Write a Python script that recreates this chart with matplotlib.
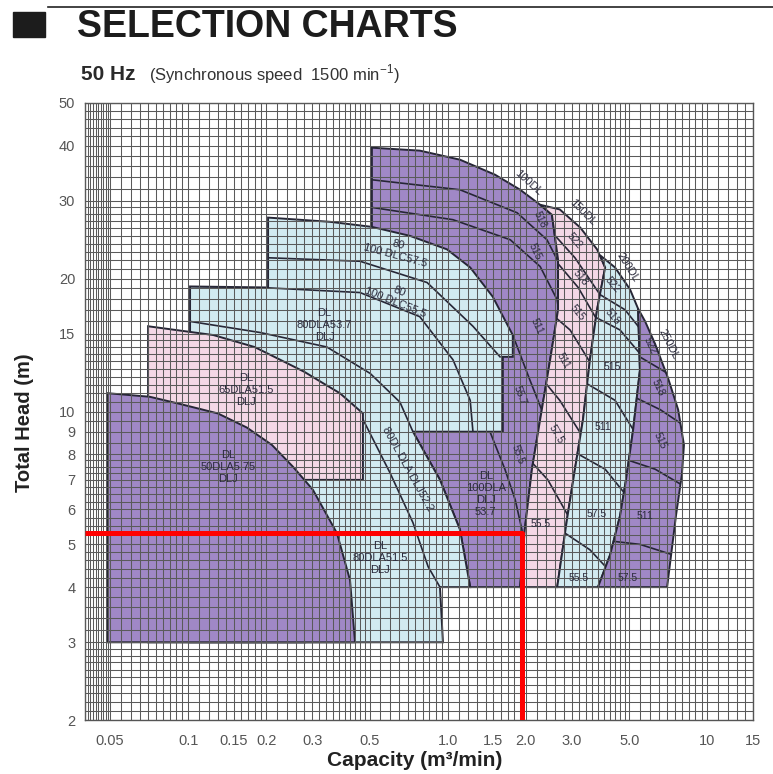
import matplotlib
matplotlib.use("Agg")
import matplotlib.pyplot as plt
import numpy as np
from matplotlib.patches import Polygon, Rectangle
from matplotlib.lines import Line2D
from matplotlib.ticker import NullFormatter

plt.rcParams["font.family"] = ["Liberation Sans", "DejaVu Sans"]
plt.rcParams["mathtext.fontset"] = "custom"
plt.rcParams["mathtext.rm"] = "Liberation Sans"

PURPLE = "#a088c6"
PINK = "#f3d8e6"
BLUE = "#d2eaf0"
EDGE = "#262636"
TXT = "#2b2b3d"

# axis ticks
x_ticks = [0.05, 0.1, 0.15, 0.2, 0.3, 0.5, 1.0, 1.5, 2.0, 3.0, 5.0, 10, 15]
x_tick_labels = ["0.05", "0.1", "0.15", "0.2", "0.3", "0.5", "1.0", "1.5",
                 "2.0", "3.0", "5.0", "10", "15"]
y_ticks = [2, 3, 4, 5, 6, 7, 8, 9, 10, 15, 20, 30, 40, 50]

# selection areas, capacity (m3/min) and total head (m)
dla50_q = [0.049, 0.049, 0.071, 0.093, 0.13, 0.168, 0.21, 0.253, 0.302, 0.374, 0.42, 0.439]
dla50_h = [3.0, 11.0, 10.8, 10.4, 9.9, 9.2, 8.4, 7.5, 6.65, 5.3, 4.15, 3.0]

dla65_q = [0.070, 0.070, 0.125, 0.18, 0.226, 0.280, 0.330, 0.384, 0.471, 0.471, 0.282, 0.282]
dla65_h = [3.0, 15.6, 14.9, 14.0, 13.1, 12.3, 11.6, 11.0, 9.9, 7.0, 7.0, 3.0]

dla80_q = [0.1016, 0.203, 0.203, 0.352, 0.51, 0.715, 0.993, 1.22, 1.49, 1.78,
           1.78, 1.63, 1.63, 0.734, 0.933, 1.114, 1.22, 0.933, 0.958, 0.1016]
dla80_h = [19.2, 19.1, 27.5, 26.9, 26.2, 25.0, 23.3, 21.2, 18.2, 14.9,
           13.3, 13.3, 9.0, 9.0, 7.0, 5.4, 4.0, 4.0, 3.0, 3.0]
dla80_inner_q = [[0.203, 0.459, 0.832, 1.25, 1.59],
                 [0.1016, 0.189, 0.459, 0.78, 1.047, 1.22, 1.25],
                 [0.1016, 0.189, 0.342, 0.502, 0.654, 0.734],
                 [0.471, 0.599, 0.734, 0.84, 0.933]]
dla80_inner_h = [[22.3, 21.9, 19.6, 15.6, 13.3],
                 [19.2, 19.1, 18.6, 16.4, 13.1, 10.6, 9.0],
                 [16.0, 15.1, 14.0, 12.2, 10.5, 9.0],
                 [9.6, 7.26, 5.6, 4.45, 4.0]]

dl100_q = [0.51, 0.78, 1.114, 1.52, 1.90, 2.27, 2.52, 2.66, 2.66, 2.48, 2.27,
           2.11, 1.98, 1.90, 1.22, 1.114, 0.933, 0.734, 0.51]
dl100_h = [39.6, 39.0, 37.2, 34.4, 31.8, 29.4, 27.9, 22.1, 17.0, 13.1, 9.6,
           7.4, 5.4, 4.0, 4.0, 5.4, 7.0, 9.0, 9.0]
dl100_inner_q = [[0.51, 1.114, 1.85, 2.41, 2.83, 2.95],
                 [0.51, 1.047, 1.74, 2.27, 2.64, 2.75],
                 [1.78, 2.07, 2.33, 2.59],
                 [1.454, 1.66, 1.82, 1.93, 1.98]]
dl100_inner_h = [[33.5, 31.8, 28.2, 24.5, 20.4, 18.0],
                 [29.0, 27.2, 24.5, 21.3, 17.9, 15.0],
                 [14.9, 11.8, 9.9, 8.2],
                 [9.0, 7.4, 6.3, 5.4, 4.8]]

dl150_q = [2.27, 2.70, 3.24, 3.76, 4.04, 3.76, 3.53, 3.32, 3.09, 2.88, 2.64,
           1.90, 1.98, 2.11, 2.27, 2.48, 2.66, 2.66, 2.52]
dl150_h = [29.4, 28.7, 26.1, 23.3, 21.2, 17.0, 13.1, 9.6, 7.4, 5.7, 4.0,
           4.0, 5.4, 7.4, 9.6, 13.1, 17.0, 22.1, 27.9]
dl150_inner_q = [[2.43, 3.09, 3.86, 4.3],
                 [2.48, 3.18, 3.86],
                 [2.17, 2.96, 3.69],
                 [2.17, 2.70, 3.38],
                 [1.90, 2.43, 2.96]]
dl150_inner_h = [[26.1, 22.3, 18.4, 16.5],
                 [22.7, 19.1, 15.7],
                 [17.9, 15.3, 12.4],
                 [12.4, 10.6, 8.6],
                 [8.2, 7.0, 5.7]]

dl200_q = [3.86, 4.41, 5.04, 5.41, 5.50, 5.18, 4.86, 4.61, 4.22, 3.79, 2.64,
           2.88, 3.09, 3.32, 3.53, 3.76, 4.04]
dl200_h = [22.6, 21.2, 18.9, 17.1, 12.4, 9.1, 7.0, 5.8, 4.73, 4.0, 4.0,
           5.7, 7.4, 9.6, 13.1, 17.0, 21.2]
dl200_inner_q = [[3.38, 3.86, 4.82, 5.76],
                 [3.53, 4.61, 5.76],
                 [3.24, 4.41, 5.50],
                 [2.96, 4.04, 5.04],
                 [2.70, 3.53, 4.41]]
dl200_inner_h = [[20.1, 18.4, 17.0, 14.9],
                 [16.6, 15.3, 13.1],
                 [11.8, 10.6, 8.6],
                 [8.2, 7.4, 6.3],
                 [5.4, 4.86, 4.22]]

dl250_q = [5.41, 5.76, 6.30, 7.06, 7.72, 8.13, 7.98, 7.58, 7.0, 3.79,
           4.22, 4.61, 4.86, 5.18, 5.50]
dl250_h = [17.1, 16.0, 14.2, 11.9, 10.1, 8.4, 7.19, 5.83, 4.0, 4.0,
           4.73, 5.8, 7.0, 9.1, 12.4]
dl250_inner_q = [[5.26, 6.87, 8.58],
                 [5.04, 6.58, 8.58],
                 [4.82, 6.30, 8.58],
                 [3.86, 5.50, 8.58]]
dl250_inner_h = [[13.5, 12.3, 10.9],
                 [10.9, 10.1, 9.1],
                 [7.8, 7.4, 6.65],
                 [5.12, 5.0, 4.6]]

# model labels
model_text = ["DL\n50DLA5.75\nDLJ", "DL\n65DLA51.5\nDLJ", "DL\n80DLA53.7\nDLJ",
              "80\n100 DLC57.5", "80\n100 DLC55.5", "80DL DLA DLJ52.2",
              "DL\n80DLA51.5\nDLJ", "DL\n100DLA\nDLJ\n53.7"]
model_q = [0.142, 0.167, 0.335, 0.637, 0.64, 0.70, 0.548, 1.40]
model_h = [7.5, 11.2, 15.7, 23.2, 18.2, 7.4, 4.66, 6.5]
model_rot = [0, 0, 0, -15, -22, -61, 0, 0]

# motor labels
motor_text = ["518", "515", "511", "55.7", "55.5",
              "522", "518", "515", "511", "57.5", "55.5",
              "522", "518", "515", "511", "57.5", "55.5",
              "522", "518", "515", "511", "57.5"]
motor_q = [2.27, 2.17, 2.21, 1.90, 1.87,
           3.09, 3.24, 3.15, 2.78, 2.61, 2.27,
           4.33, 4.33, 4.29, 3.96, 3.76, 3.18,
           6.01, 6.46, 6.58, 5.76, 4.95]
motor_h = [27.2, 23.0, 15.6, 10.9, 8.0,
           24.4, 20.1, 16.7, 13.0, 8.86, 5.55,
           19.4, 16.4, 12.6, 9.2, 5.86, 4.2,
           14.1, 11.3, 8.6, 5.8, 4.2]
motor_rot = [-65, -65, -65, -70, -70,
             -50, -50, -50, -60, -60, 0,
             -50, -50, 0, 0, 0, 0,
             -65, -65, -65, 0, 0]

# series labels on the outer curves
series_text = ["100DL", "150DL", "200DL", "250DL"]
series_q = [2.04, 3.32, 4.95, 7.06]
series_h = [33.0, 28.2, 21.2, 14.2]
series_rot = [-42, -45, -58, -63]

# red selection lines
red_q = [0.04, 1.93, 1.93]
red_h = [5.3, 5.3, 2.0]

fig = plt.figure(figsize=(7.73, 7.74), dpi=100)
ax = fig.add_axes([85 / 773, 1 - 720 / 774, 668 / 773, 617 / 774])
ax.set_xscale("log")
ax.set_yscale("log")


def region(q, h, color, z, inner_q=(), inner_h=()):
    poly = Polygon(np.column_stack([q, h]), closed=True, facecolor=color,
                   edgecolor=EDGE, lw=1.4, zorder=z)
    ax.add_patch(poly)
    for iq, ih in zip(inner_q, inner_h):
        ln, = ax.plot(iq, ih, color=EDGE, lw=1.2, zorder=z + 0.01)
        ln.set_clip_path(poly)


region(dl100_q, dl100_h, PURPLE, 1.0, dl100_inner_q, dl100_inner_h)
region(dl150_q, dl150_h, PINK, 1.1, dl150_inner_q, dl150_inner_h)
region(dl200_q, dl200_h, BLUE, 1.2, dl200_inner_q, dl200_inner_h)
region(dl250_q, dl250_h, PURPLE, 1.3, dl250_inner_q, dl250_inner_h)
region(dla80_q, dla80_h, BLUE, 1.5, dla80_inner_q, dla80_inner_h)
region(dla65_q, dla65_h, PINK, 1.6)
region(dla50_q, dla50_h, PURPLE, 1.7)

for s, q, h, r in zip(model_text, model_q, model_h, model_rot):
    ax.text(q, h, s, ha="center", va="center", rotation=r, rotation_mode="anchor",
            fontsize=8, color=TXT, linespacing=1.25, zorder=4)
for s, q, h, r in zip(motor_text, motor_q, motor_h, motor_rot):
    ax.text(q, h, s, ha="center", va="center", rotation=r, rotation_mode="anchor",
            fontsize=7.5, color=TXT, zorder=4)
for s, q, h, r in zip(series_text, series_q, series_h, series_rot):
    ax.text(q, h, s, ha="center", va="center", rotation=r, rotation_mode="anchor",
            fontsize=8, color=TXT, zorder=4)

ax.plot(red_q, red_h, color="#ff0000", lw=3.6, zorder=6, solid_capstyle="butt")

# paper grid
gx = np.concatenate([np.arange(0.040, 0.0499, 0.001), np.arange(0.05, 0.0999, 0.005),
                     np.arange(0.1, 0.1999, 0.01), np.arange(0.2, 0.4999, 0.02),
                     np.arange(0.5, 0.999, 0.05), np.arange(1.0, 1.999, 0.1),
                     np.arange(2.0, 4.999, 0.2), np.arange(5.0, 9.99, 0.5),
                     np.arange(10, 15.01, 1.0)])
gy = np.concatenate([np.arange(2.0, 2.999, 0.1), np.arange(3.0, 4.999, 0.2),
                     np.arange(5.0, 7.999, 0.25), np.arange(8.0, 9.999, 0.5),
                     np.arange(10, 14.99, 0.5), np.arange(15, 19.99, 1.0),
                     np.arange(20, 29.99, 1.0), np.arange(30, 50.01, 2.0)])

ax.set_xlim(0.04, 15)
ax.set_ylim(2, 50)
ax.set_xticks(x_ticks, x_tick_labels)
ax.set_yticks(y_ticks, [str(v) for v in y_ticks])
ax.set_xticks(gx, minor=True)
ax.set_yticks(gy, minor=True)
ax.xaxis.set_minor_formatter(NullFormatter())
ax.yaxis.set_minor_formatter(NullFormatter())
ax.set_axisbelow(False)
ax.grid(which="both", color="#5a5a5a", lw=0.75)
ax.tick_params(which="both", length=0, labelsize=10.5, labelcolor="#555555")
ax.tick_params(axis="x", pad=10)
ax.tick_params(axis="y", pad=7)
for sp in ax.spines.values():
    sp.set_color("#555555")
    sp.set_linewidth(1.0)

# header
fig.add_artist(Line2D([48 / 773, 1], [1 - 7 / 774, 1 - 7 / 774],
                      transform=fig.transFigure, color="#222222", lw=1.2))
fig.add_artist(Rectangle((13 / 773, 1 - 37 / 774), 32 / 773, 25 / 774,
                         transform=fig.transFigure, color="#1c1c1c"))
fig.text(77 / 773, 1 - 37 / 774, "SELECTION CHARTS", fontsize=27,
         fontweight="bold", color="#1c1c1c", va="baseline")
fig.text(81 / 773, 1 - 80 / 774, "50 Hz", fontsize=15, fontweight="bold",
         color="#2a2a2a", va="baseline")
fig.text(149 / 773, 1 - 80 / 774, r"(Synchronous speed  1500 min$^{\mathregular{-1}}$)",
         fontsize=12, color="#333333", va="baseline")

fig.text(25 / 773, 1 - 423 / 774, "Total Head (m)", rotation=90, fontsize=14.5,
         fontweight="bold", ha="center", va="center", color="#222222")
fig.text(415 / 773, 1 - 761 / 774, "Capacity (m³/min)", fontsize=15,
         fontweight="bold", ha="center", va="center", color="#222222")

fig.savefig("out.png", dpi=100, facecolor="white")
